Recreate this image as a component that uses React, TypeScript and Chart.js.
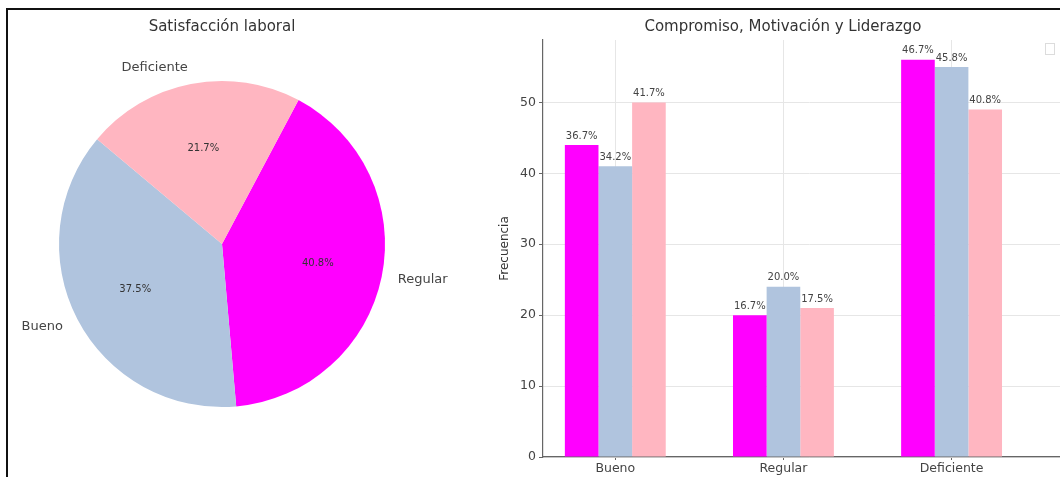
import React, { useEffect, useRef } from 'react';
import { Chart, registerables } from 'chart.js';

Chart.register(...registerables);

const FONT = "'DejaVu Sans', 'Liberation Sans', sans-serif";

// ---- Pie data ----
const pieTitle = 'Satisfacción laboral';
const pieLabels = ['Regular', 'Bueno', 'Deficiente'];
const pieCounts = [49, 45, 26];
const pieColors = ['#ff00ff', '#b0c4de', '#ffb6c1'];

// ---- Bar data ----
const barTitle = 'Compromiso, Motivación y Liderazgo';
const categories = ['Bueno', 'Regular', 'Deficiente'];
const seriesNames = ['Compromiso', 'Motivación', 'Liderazgo'];
const compromiso = [44, 20, 56];
const motivacion = [41, 24, 55];
const liderazgo = [50, 21, 49];
const seriesColors = ['#ff00ff', '#b0c4de', '#ffb6c1'];
const yTicks = [0, 10, 20, 30, 40, 50];
const respondents = 120;

const pieLabelPlugin = {
  id: 'pieLabels',
  afterDatasetsDraw(chart: any) {
    const ctx = chart.ctx;
    const meta = chart.getDatasetMeta(0);
    const data = chart.data.datasets[0].data as number[];
    const sum = data.reduce((a, b) => a + b, 0);
    meta.data.forEach((arc: any, i: number) => {
      const { x, y, startAngle, endAngle, outerRadius } = arc.getProps(
        ['x', 'y', 'startAngle', 'endAngle', 'outerRadius'],
        true
      );
      const mid = (startAngle + endAngle) / 2;
      const c = Math.cos(mid);
      const s = Math.sin(mid);
      ctx.save();
      ctx.font = `10px ${FONT}`;
      ctx.fillStyle = '#333';
      ctx.textAlign = 'center';
      ctx.textBaseline = 'middle';
      ctx.fillText(((data[i] / sum) * 100).toFixed(1) + '%', x + c * outerRadius * 0.6, y + s * outerRadius * 0.6);
      ctx.font = `13px ${FONT}`;
      ctx.fillStyle = '#444';
      ctx.textAlign = c >= 0 ? 'left' : 'right';
      ctx.fillText(chart.data.labels[i], x + c * outerRadius * 1.1, y + s * outerRadius * 1.1);
      ctx.restore();
    });
  },
};

const barLabelPlugin = {
  id: 'barLabels',
  afterDatasetsDraw(chart: any) {
    const ctx = chart.ctx;
    ctx.save();
    ctx.font = `10px ${FONT}`;
    ctx.fillStyle = '#444';
    ctx.textAlign = 'center';
    ctx.textBaseline = 'middle';
    chart.data.datasets.forEach((ds: any, di: number) => {
      const meta = chart.getDatasetMeta(di);
      meta.data.forEach((bar: any, i: number) => {
        const v = ds.data[i].y as number;
        ctx.fillText(((v / respondents) * 100).toFixed(1) + '%', bar.x, bar.y - 9);
      });
    });
    // empty legend frame
    const a = chart.chartArea;
    ctx.strokeStyle = '#dcdcdc';
    ctx.lineWidth = 1;
    ctx.strokeRect(a.right - 30.5, a.top + 3.5, 9, 11);
    ctx.restore();
  },
};

export default function App() {
  const pieRef = useRef<HTMLCanvasElement>(null);
  const barRef = useRef<HTMLCanvasElement>(null);

  useEffect(() => {
    Chart.defaults.font.family = FONT;
    const pie = new Chart(pieRef.current as HTMLCanvasElement, {
      type: 'pie',
      data: {
        labels: pieLabels,
        datasets: [
          {
            data: pieCounts,
            backgroundColor: pieColors,
            borderWidth: 0,
          },
        ],
      },
      options: {
        responsive: false,
        animation: false,
        devicePixelRatio: 1,
        rotation: 28,
        layout: { padding: { left: 0, right: 46, top: 0, bottom: 70 } },
        plugins: {
          legend: { display: false },
          tooltip: { enabled: false },
          title: {
            display: true,
            text: pieTitle,
            color: '#333',
            font: { size: 15, weight: 'normal', family: FONT },
            padding: { top: 18, bottom: 45 },
          },
        },
      },
      plugins: [pieLabelPlugin],
    } as any);

    const series = [compromiso, motivacion, liderazgo];
    const bar = new Chart(barRef.current as HTMLCanvasElement, {
      type: 'bar',
      data: {
        datasets: series.map((vals, si) => ({
          label: seriesNames[si],
          data: vals.map((v, i) => ({ x: i, y: v })),
          backgroundColor: seriesColors[si],
          borderWidth: 0,
          categoryPercentage: 0.6,
          barPercentage: 1.0,
        })),
      },
      options: {
        responsive: false,
        animation: false,
        devicePixelRatio: 1,
        layout: { padding: 0 },
        plugins: {
          legend: { display: false },
          tooltip: { enabled: false },
          title: {
            display: true,
            text: barTitle,
            color: '#333',
            font: { size: 15, weight: 'normal', family: FONT },
            padding: { top: 18, bottom: 4 },
          },
        },
        scales: {
          x: {
            type: 'linear',
            min: -0.43,
            max: 2.74,
            offset: false,
            grid: { color: '#e6e6e6', offset: false, tickLength: 3, tickColor: '#666' },
            border: { color: '#666', width: 1.2 },
            afterBuildTicks: (scale: any) => {
              scale.ticks = categories.map((_, i) => ({ value: i }));
            },
            ticks: {
              autoSkip: false,
              maxRotation: 0,
              padding: 1,
              color: '#444',
              font: { size: 12.5, family: FONT },
              callback: (v: any) => categories[v] ?? '',
            },
          },
          y: {
            type: 'linear',
            min: 0,
            max: 58.8,
            grid: { color: '#e6e6e6', tickLength: 4, tickColor: '#666' },
            border: { color: '#666', width: 1.2 },
            afterBuildTicks: (scale: any) => {
              scale.ticks = yTicks.map((v) => ({ value: v }));
            },
            afterFit: (scale: any) => {
              scale.width = 53;
            },
            ticks: {
              padding: 3,
              color: '#444',
              font: { size: 12.5, family: FONT },
            },
            title: {
              display: true,
              text: 'Frecuencia',
              color: '#333',
              font: { size: 12, family: FONT },
              padding: { top: 8, bottom: 0 },
            },
          },
        },
      },
      plugins: [barLabelPlugin],
    } as any);

    return () => {
      pie.destroy();
      bar.destroy();
    };
  }, []);

  return (
    <div
      style={{
        position: 'fixed',
        left: 0,
        top: 0,
        width: 1060,
        height: 477,
        overflow: 'hidden',
        background: '#fff',
      }}
    >
      <canvas
        ref={pieRef}
        width={490}
        height={477}
        style={{ position: 'absolute', left: 0, top: 0, width: 490, height: 477 }}
      />
      <canvas
        ref={barRef}
        width={586}
        height={477}
        style={{ position: 'absolute', left: 490, top: 0, width: 586, height: 477 }}
      />
      <div
        style={{
          position: 'absolute',
          left: 6,
          top: 8,
          width: 1100,
          height: 520,
          borderTop: '2px solid #111',
          borderLeft: '2px solid #111',
          pointerEvents: 'none',
        }}
      />
    </div>
  );
}
